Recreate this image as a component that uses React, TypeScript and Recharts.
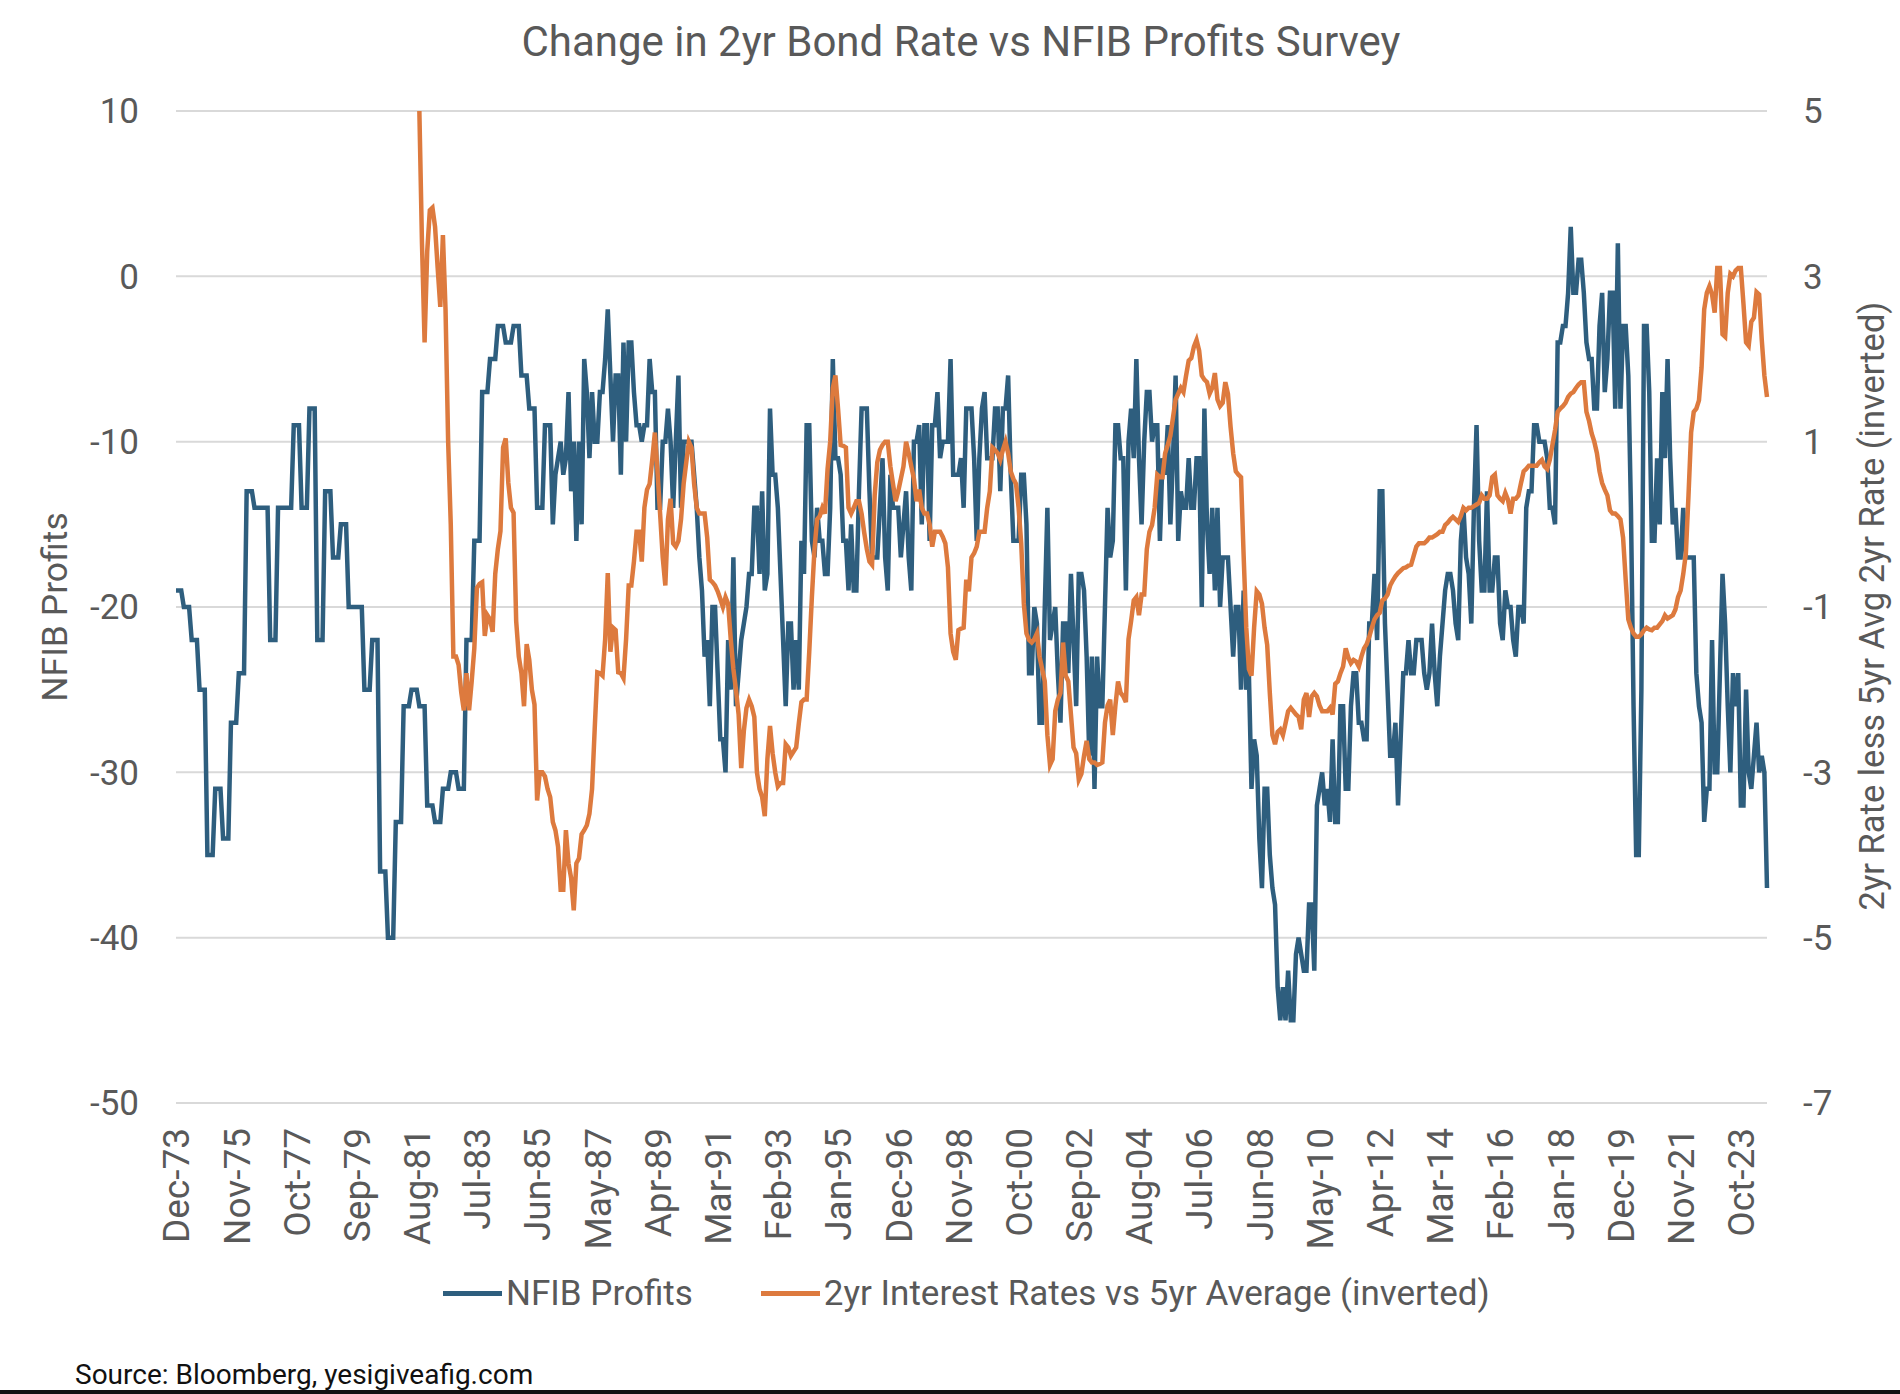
import { CartesianGrid, Line, LineChart, XAxis, YAxis } from "recharts";

const BLUE = "#2E5E7E";
const ORANGE = "#DD7A3E";
const GREY = "#595959";
const FONT = "Roboto, 'Liberation Sans', sans-serif";

// NFIB earnings survey, monthly from Dec-73 (quarterly steps until 1986)
const NFIB = [
  -19, -19, -19, -20, -20, -20, -22, -22, -22, -25, -25, -25,
  -35, -35, -35, -31, -31, -31, -34, -34, -34, -27, -27, -27,
  -24, -24, -24, -13, -13, -13, -14, -14, -14, -14, -14, -14,
  -22, -22, -22, -14, -14, -14, -14, -14, -14, -9, -9, -9,
  -14, -14, -14, -8, -8, -8, -22, -22, -22, -13, -13, -13,
  -17, -17, -17, -15, -15, -15, -20, -20, -20, -20, -20, -20,
  -25, -25, -25, -22, -22, -22, -36, -36, -36, -40, -40, -40,
  -33, -33, -33, -26, -26, -26, -25, -25, -25, -26, -26, -26,
  -32, -32, -32, -33, -33, -33, -31, -31, -31, -30, -30, -30,
  -31, -31, -31, -22, -22, -22, -16, -16, -16, -7, -7, -7,
  -5, -5, -5, -3, -3, -3, -4, -4, -4, -3, -3, -3,
  -6, -6, -6, -8, -8, -8, -14, -14, -14, -9, -9, -9,
  -15, -12, -11, -10, -12, -11, -7, -13, -10, -16, -10, -15,
  -5, -7, -11, -7, -10, -10, -7, -7, -5, -2, -6, -10,
  -6, -6, -12, -4, -10, -4, -4, -7, -9, -9, -10, -9,
  -9, -5, -7, -7, -14, -14, -10, -10, -8, -10, -14, -10,
  -6, -14, -10, -10, -10, -10, -12, -14, -17, -19, -23, -22,
  -26, -20, -20, -24, -28, -28, -30, -22, -25, -17, -26, -24,
  -22, -21, -20, -18, -18, -14, -14, -18, -13, -19, -18, -8,
  -12, -12, -14, -18, -22, -26, -21, -21, -25, -22, -25, -16,
  -18, -9, -9, -16, -17, -14, -16, -16, -18, -18, -14, -5,
  -11, -11, -12, -16, -16, -19, -15, -19, -19, -13, -8, -8,
  -8, -13, -17, -17, -17, -14, -11, -17, -19, -12, -14, -14,
  -14, -17, -15, -13, -17, -19, -10, -10, -9, -15, -9, -9,
  -16, -9, -9, -7, -11, -10, -10, -10, -5, -12, -12, -12,
  -11, -14, -8, -8, -8, -11, -16, -11, -8, -7, -11, -11,
  -11, -8, -8, -13, -8, -8, -6, -12, -16, -16, -16, -12,
  -12, -15, -24, -24, -20, -21, -27, -27, -20, -14, -22, -21,
  -20, -24, -27, -21, -21, -24, -18, -22, -26, -18, -18, -19,
  -23, -29, -23, -31, -23, -26, -26, -20, -14, -17, -16, -9,
  -9, -11, -11, -19, -10, -8, -11, -5, -11, -15, -10, -7,
  -7, -10, -9, -9, -16, -11, -12, -9, -15, -11, -6, -16,
  -13, -14, -14, -11, -14, -14, -11, -11, -20, -8, -15, -18,
  -14, -19, -14, -20, -17, -17, -17, -20, -23, -20, -20, -25,
  -19, -25, -24, -31, -28, -29, -34, -37, -31, -31, -35, -37,
  -38, -43, -45, -43, -45, -42, -45, -45, -41, -40, -41, -42,
  -42, -38, -38, -42, -32, -31, -30, -32, -31, -33, -28, -33,
  -33, -26, -26, -31, -31, -26, -24, -24, -27, -27, -28, -28,
  -21, -21, -18, -22, -13, -13, -21, -25, -29, -29, -27, -32,
  -28, -24, -24, -22, -24, -24, -22, -22, -22, -24, -25, -24,
  -21, -24, -26, -23, -21, -19, -18, -18, -19, -21, -22, -16,
  -14, -17, -18, -21, -14, -9, -16, -19, -19, -13, -19, -19,
  -17, -17, -21, -22, -19, -20, -20, -22, -23, -20, -20, -21,
  -14, -13, -13, -9, -9, -10, -10, -10, -11, -14, -14, -15,
  -4, -4, -3, -3, -1, 3, -1, -1, 1, 1, -1, -4,
  -5, -5, -8, -8, -3, -1, -7, -5, -1, -1, -8, 2,
  -8, -3, -3, -6, -14, -26, -35, -35, -25, -3, -3, -7,
  -16, -16, -11, -15, -7, -11, -5, -11, -15, -14, -17, -17,
  -14, -17, -17, -17, -17, -24, -26, -27, -33, -31, -31, -22,
  -30, -30, -24, -18, -21, -26, -30, -24, -26, -24, -32, -32,
  -25, -30, -31, -29, -27, -30, -29, -30, -37,
];

// 2yr rate less its 5yr average, inverted; the series begins in Sep-81
const RATE_START = "Sep-81";
const RATE = [
  5.0, 3.4, 2.2,
  3.3, 3.8, 3.83, 3.6, 3.1, 2.63, 3.5, 2.6, 1.0, 0.0, -1.6, -1.6,
  -1.7, -2.03, -2.25, -1.8, -2.25, -1.9, -1.5, -0.77, -0.72, -0.7, -1.35, -1.1,
  -1.15, -1.3, -0.6, -0.3, -0.08, 0.93, 1.04, 0.5, 0.2, 0.14, -1.17, -1.6,
  -1.8, -2.2, -1.45, -1.64, -2.0, -2.18, -3.34, -3.0, -3.0, -3.05, -3.2, -3.3,
  -3.6, -3.7, -3.9, -4.42, -4.42, -3.7, -4.1, -4.28, -4.67, -4.1, -4.04, -3.75,
  -3.7, -3.64, -3.5, -3.2, -2.48, -1.79, -1.8, -1.83, -1.39, -0.59, -1.54, -1.25,
  -1.28, -1.79, -1.8, -1.86, -1.39, -0.74, -0.74, -0.45, -0.09, -0.09, -0.45, 0.2,
  0.42, 0.49, 0.78, 1.11, 0.64, 0.13, -0.4, -0.74, 0.06, 0.31, -0.23, -0.27,
  -0.2, 0.06, 0.49, 0.75, 1.0, 0.93, 0.49, 0.2, 0.13, 0.13, 0.13, -0.16,
  -0.67, -0.7, -0.74, -0.81, -0.9, -1.0, -0.88, -0.96, -1.39, -1.75, -2.0, -2.3,
  -2.95, -2.5, -2.22, -2.12, -2.2, -2.33, -3.0, -3.2, -3.3, -3.53, -2.84, -2.44,
  -2.77, -3.0, -3.17, -3.13, -3.13, -2.66, -2.7, -2.8, -2.75, -2.7, -2.41, -2.15,
  -2.12, -2.12, -1.54, -0.88, -0.3, 0.06, 0.1, 0.2, 0.13, 0.67, 1.0, 1.65,
  1.8, 1.4, 0.96, 0.95, 0.93, 0.2, 0.13, 0.2, 0.28, 0.28, 0.13, -0.1,
  -0.3, -0.45, -0.49, 0.35, 0.75, 0.9, 0.96, 1.0, 1.0, 0.7, 0.49, 0.28,
  0.4, 0.55, 0.7, 1.0, 0.86, 0.7, 0.55, 0.28, 0.42, 0.2, 0.13, 0.13,
  0.0, -0.27, -0.09, -0.09, -0.09, -0.15, -0.23, -0.52, -1.32, -1.54, -1.64, -1.28,
  -1.26, -1.25, -0.67, -0.81, -0.4, -0.35, -0.27, -0.09, -0.09, -0.09, 0.2, 0.4,
  0.93, 0.9, 0.86, 0.78, 0.9, 1.0, 0.86, 0.64, 0.55, 0.49, 0.2, -0.23,
  -0.96, -1.32, -1.4, -1.43, -1.39, -1.32, -1.6, -1.75, -1.9, -2.55, -2.91, -2.84,
  -2.26, -2.12, -2.04, -1.43, -1.83, -1.9, -2.3, -2.7, -2.77, -3.09, -3.02, -2.8,
  -2.62, -2.84, -2.88, -2.88, -2.91, -2.9, -2.88, -2.4, -2.19, -2.12, -2.55, -2.19,
  -1.9, -2.04, -2.08, -2.15, -1.39, -1.17, -0.92, -0.88, -1.1, -0.85, -0.85, -0.3,
  -0.09, -0.01, 0.2, 0.6, 0.57, 0.57, 0.86, 0.96, 1.07, 1.29, 1.51, 1.58,
  1.65, 1.6, 1.8, 1.98, 2.01, 2.15, 2.23, 2.1, 1.8, 1.75, 1.72, 1.58,
  1.65, 1.83, 1.51, 1.43, 1.47, 1.72, 1.58, 1.18, 0.86, 0.64, 0.6, 0.57,
  -0.38, -1.25, -1.75, -1.83, -1.25, -0.81, -0.85, -0.96, -1.25, -1.46, -2.04, -2.55,
  -2.66, -2.51, -2.48, -2.55, -2.41, -2.26, -2.22, -2.26, -2.3, -2.33, -2.48, -2.12,
  -2.04, -2.33, -2.08, -2.04, -2.08, -2.19, -2.26, -2.26, -2.26, -2.22, -2.3, -1.93,
  -1.9, -1.8, -1.72, -1.5, -1.61, -1.68, -1.64, -1.66, -1.72, -1.6, -1.5, -1.45,
  -1.36, -1.25, -1.15, -1.1, -1.07, -0.92, -0.9, -0.85, -0.74, -0.68, -0.63, -0.59,
  -0.56, -0.53, -0.52, -0.5, -0.49, -0.38, -0.27, -0.23, -0.23, -0.23, -0.2, -0.16,
  -0.16, -0.14, -0.12, -0.09, -0.09, -0.01, 0.02, 0.06, 0.09, 0.06, 0.03, 0.1,
  0.2, 0.17, 0.2, 0.2, 0.22, 0.24, 0.26, 0.35, 0.31, 0.31, 0.35, 0.57,
  0.6, 0.35, 0.31, 0.28, 0.38, 0.3, 0.13, 0.31, 0.31, 0.35, 0.5, 0.64,
  0.67, 0.71, 0.71, 0.71, 0.71, 0.75, 0.78, 0.7, 0.67, 0.78, 0.96, 1.14,
  1.36, 1.4, 1.43, 1.47, 1.54, 1.58, 1.6, 1.65, 1.69, 1.72, 1.72, 1.36,
  1.25, 1.1, 1.0, 0.86, 0.64, 0.5, 0.42, 0.35, 0.17, 0.13, 0.13, 0.1,
  0.06, -0.16, -0.67, -1.15, -1.25, -1.32, -1.36, -1.36, -1.33, -1.28, -1.25, -1.27,
  -1.28, -1.25, -1.25, -1.21, -1.17, -1.1, -1.14, -1.12, -1.1, -1.03, -0.88, -0.8,
  -0.6, -0.35, 0.35, 1.11, 1.36, 1.4, 1.5, 1.9, 2.6, 2.8, 2.88, 2.78,
  2.56, 3.1, 3.1, 2.3, 2.27, 2.8, 3.03, 3.0, 3.07, 3.1, 3.1, 2.67,
  2.2, 2.16, 2.45, 2.5, 2.81, 2.78, 2.23, 1.8, 1.54,
];

const MONTHS = ["Jan", "Feb", "Mar", "Apr", "May", "Jun", "Jul", "Aug", "Sep", "Oct", "Nov", "Dec"];
const FIRST_YEAR = 1973;
const FIRST_MONTH = 11; // December

// month labels for every point, Dec-73 onward
const DATES = NFIB.map((_, i) => {
  const m = FIRST_MONTH + i;
  const yr = (FIRST_YEAR + Math.floor(m / 12)) % 100;
  return `${MONTHS[m % 12]}-${String(yr).padStart(2, "0")}`;
});

const LEFT_TICKS = [-50, -40, -30, -20, -10, 0, 10];
const RIGHT_TICKS = [-7, -5, -3, -1, 1, 3, 5];

const rateOffset = DATES.indexOf(RATE_START);
const data = DATES.map((date, i) => ({
  date,
  nfib: NFIB[i],
  rate: i >= rateOffset ? RATE[i - rateOffset] : null,
}));

function DateTick({ x, y, payload }: any) {
  return (
    <g transform={`translate(${x},${y})`}>
      <text transform="rotate(-90)" textAnchor="end" dy="0.36em" fill={GREY} fontSize={37} fontFamily={FONT}>
        {payload.value}
      </text>
    </g>
  );
}

function LegendItem({ color, label }: { color: string; label: string }) {
  return (
    <div style={{ display: "flex", alignItems: "center" }}>
      <div style={{ width: 59, height: 5, background: color, marginRight: 4 }} />
      <span>{label}</span>
    </div>
  );
}

export default function App() {
  return (
    <div
      style={{
        position: "absolute",
        left: 0,
        top: 0,
        width: 1900,
        height: 1394,
        background: "#fff",
        fontFamily: FONT,
        overflow: "hidden",
      }}
    >
      <div
        style={{
          position: "absolute",
          left: 961,
          top: 18,
          transform: "translateX(-50%)",
          whiteSpace: "nowrap",
          fontSize: 42,
          lineHeight: "48px",
          color: GREY,
        }}
      >
        Change in 2yr Bond Rate vs NFIB Profits Survey
      </div>

      <LineChart width={1900} height={1394} data={data} margin={{ top: 111, right: 73, bottom: 141, left: 116 }}>
        <CartesianGrid vertical={false} stroke="#d9d9d9" strokeWidth={2} yAxisId="left" />
        <XAxis
          dataKey="date"
          interval={22}
          tick={<DateTick />}
          tickLine={false}
          axisLine={false}
          tickSize={0}
          tickMargin={25}
          height={150}
        />
        <YAxis
          yAxisId="left"
          domain={[-50, 10]}
          ticks={LEFT_TICKS}
          width={60}
          tickLine={false}
          axisLine={false}
          tickSize={0}
          tickMargin={37}
          tick={{ fill: GREY, fontSize: 35, fontFamily: FONT }}
        />
        <YAxis
          yAxisId="right"
          orientation="right"
          domain={[-7, 5]}
          ticks={RIGHT_TICKS}
          width={60}
          tickLine={false}
          axisLine={false}
          tickSize={0}
          tickMargin={36}
          tick={{ fill: GREY, fontSize: 35, fontFamily: FONT }}
        />
        <Line
          yAxisId="left"
          dataKey="nfib"
          name="NFIB Profits"
          type="linear"
          stroke={BLUE}
          strokeWidth={4.5}
          dot={false}
          activeDot={false}
          isAnimationActive={false}
        />
        <Line
          yAxisId="right"
          dataKey="rate"
          name="2yr Interest Rates vs 5yr Average (inverted)"
          type="linear"
          stroke={ORANGE}
          strokeWidth={4.5}
          dot={false}
          activeDot={false}
          isAnimationActive={false}
        />
      </LineChart>

      <div
        style={{
          position: "absolute",
          left: 55,
          top: 607,
          transform: "translate(-50%, -50%) rotate(-90deg)",
          whiteSpace: "nowrap",
          fontSize: 35.5,
          color: GREY,
        }}
      >
        NFIB Profits
      </div>
      <div
        style={{
          position: "absolute",
          left: 1872,
          top: 606,
          transform: "translate(-50%, -50%) rotate(-90deg)",
          whiteSpace: "nowrap",
          fontSize: 34.5,
          color: GREY,
        }}
      >
        2yr Rate less 5yr Avg 2yr Rate (inverted)
      </div>

      <div
        style={{
          position: "absolute",
          left: 443,
          top: 1273,
          height: 40,
          display: "flex",
          alignItems: "center",
          gap: 68,
          fontSize: 35,
          color: GREY,
          whiteSpace: "nowrap",
        }}
      >
        <LegendItem color={BLUE} label="NFIB Profits" />
        <LegendItem color={ORANGE} label="2yr Interest Rates vs 5yr Average (inverted)" />
      </div>

      <div style={{ position: "absolute", left: 75, top: 1358, fontSize: 28, lineHeight: "34px", color: "#111" }}>
        Source: Bloomberg, yesigiveafig.com
      </div>
      <div style={{ position: "absolute", left: 0, top: 1390, width: 1900, height: 4, background: "#111" }} />
    </div>
  );
}
